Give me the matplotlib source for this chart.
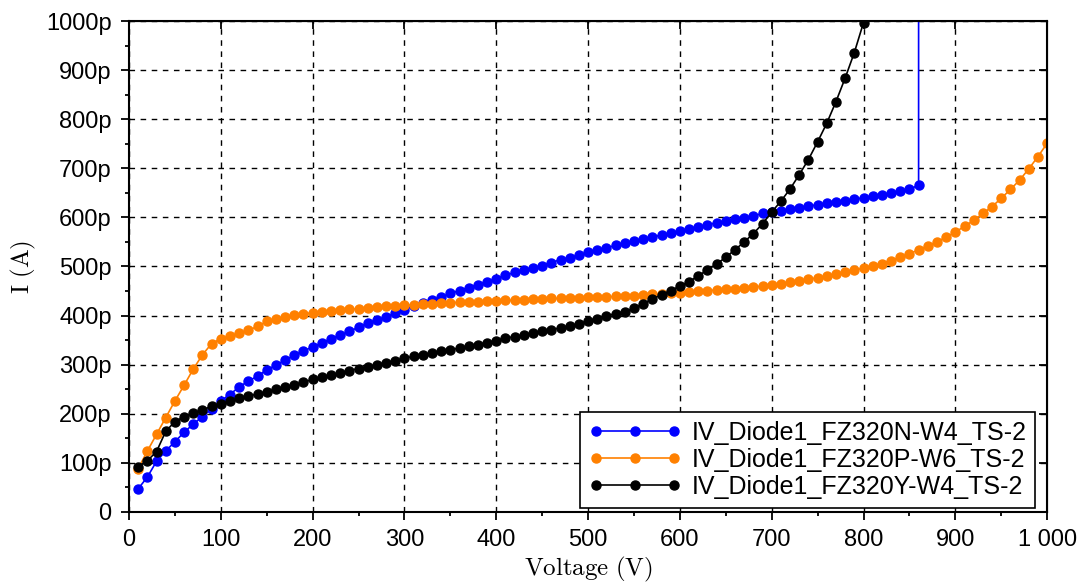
import numpy as np
import matplotlib
matplotlib.use("Agg")
import matplotlib.pyplot as plt
from matplotlib.ticker import MultipleLocator, FuncFormatter

plt.rcParams['font.family'] = ['Liberation Sans', 'DejaVu Sans']
plt.rcParams['mathtext.fontset'] = 'cm'

# measured current in pA, voltage step 10 V
v_n = list(range(10, 861, 10)) + [860]
i_n = [47, 71, 103, 124, 143, 162, 179, 194, 210, 226,
       239, 255, 266, 277, 289, 299, 309, 319, 328, 336,
       344, 353, 360, 368, 376, 385, 391, 397, 405, 412,
       419, 425, 432, 438, 445, 451, 457, 463, 469, 475,
       482, 488, 492, 497, 502, 508, 514, 518, 523, 529,
       533, 538, 543, 548, 552, 556, 560, 564, 568, 572,
       577, 580, 585, 589, 593, 597, 599, 603, 608, 611,
       614, 617, 620, 623, 626, 629, 632, 634, 637, 640,
       643, 646, 650, 653, 657, 666, 50000]

v_p = list(range(10, 1001, 10))
i_p = [88, 124, 158, 192, 226, 258, 291, 320, 343, 353,
       358, 364, 370, 378, 388, 393, 397, 401, 403, 406,
       408, 410, 412, 413, 414, 416, 417, 419, 420, 421,
       422, 423, 424, 425, 426, 427, 427, 428, 429, 429,
       431, 431, 432, 433, 434, 435, 435, 436, 436, 437,
       437, 438, 439, 440, 440, 441, 443, 444, 445, 447,
       448, 450, 451, 452, 454, 455, 457, 458, 460, 462,
       465, 468, 470, 474, 477, 480, 484, 488, 492, 497,
       501, 506, 512, 519, 526, 534, 542, 550, 560, 570,
       582, 594, 608, 622, 639, 657, 676, 699, 724, 751]

v_y = list(range(10, 801, 10))
i_y = [92, 104, 123, 164, 184, 194, 201, 208, 215, 219,
       225, 232, 236, 240, 245, 250, 254, 259, 264, 270,
       275, 279, 283, 288, 292, 296, 300, 304, 308, 313,
       317, 319, 323, 327, 330, 334, 338, 341, 345, 349,
       354, 357, 360, 364, 368, 371, 375, 379, 383, 389,
       394, 399, 404, 408, 415, 424, 434, 442, 451, 460,
       469, 481, 493, 505, 519, 534, 550, 567, 587, 611,
       633, 658, 687, 718, 754, 792, 836, 884, 936, 997]

labels = ['IV_Diode1_FZ320N-W4_TS-2', 'IV_Diode1_FZ320P-W6_TS-2', 'IV_Diode1_FZ320Y-W4_TS-2']
colors = ['#0000ff', '#ff8000', '#000000']

fig = plt.figure(figsize=(10.84, 5.87), dpi=100)
ax = fig.add_axes([0.119, 0.128, 0.847, 0.836])

for v, i, lab, c in zip([v_n, v_p, v_y], [i_n, i_p, i_y], labels, colors):
    ax.plot(v, np.array(i) * 1e-12, '-o', color=c, lw=1.2, ms=6.5, label=lab)

ax.set_xlim(0, 1000)
ax.set_ylim(0, 1000e-12)
ax.xaxis.set_major_locator(MultipleLocator(100))
ax.xaxis.set_minor_locator(MultipleLocator(50))
ax.yaxis.set_major_locator(MultipleLocator(100e-12))
ax.yaxis.set_minor_locator(MultipleLocator(50e-12))


def xfmt(x, pos):
    if x >= 1000:
        return '{:,}'.format(int(round(x))).replace(',', ' ')
    return str(int(round(x)))


def yfmt(y, pos):
    p = int(round(y * 1e12))
    if p == 0:
        return '0'
    return str(p) + 'p'


ax.xaxis.set_major_formatter(FuncFormatter(xfmt))
ax.yaxis.set_major_formatter(FuncFormatter(yfmt))
ax.tick_params(which='both', direction='out', labelsize=17, width=1.3)
ax.tick_params(which='major', length=6, pad=6.5)
ax.tick_params(which='minor', length=3)
for s in ax.spines.values():
    s.set_linewidth(1.5)

# inward major ticks on the right and top
ax_r = ax.secondary_yaxis('right')
ax_r.yaxis.set_major_locator(MultipleLocator(100e-12))
ax_r.tick_params(direction='in', length=6, width=1.3, labelright=False)
ax_t = ax.secondary_xaxis('top')
ax_t.xaxis.set_major_locator(MultipleLocator(100))
ax_t.tick_params(direction='in', length=6, width=1.3, labeltop=False)

ax.grid(True, which='major', color='black', linestyle=(0, (4, 4)), linewidth=1)

ax.set_xlabel(r'$\mathrm{Voltage\ (V)}$', fontsize=18, labelpad=3)
ax.set_ylabel(r'$\mathrm{I\ (A)}$', fontsize=18, labelpad=6)

leg = ax.legend(loc='lower right', bbox_to_anchor=(0.987, 0.008), fontsize=18,
                numpoints=3, handlelength=3.7, fancybox=False, framealpha=1,
                edgecolor='black', borderaxespad=0, labelspacing=0.12,
                handletextpad=0.4, borderpad=0.35)
leg.get_frame().set_linewidth(1.2)

fig.savefig('out.png', dpi=100)
